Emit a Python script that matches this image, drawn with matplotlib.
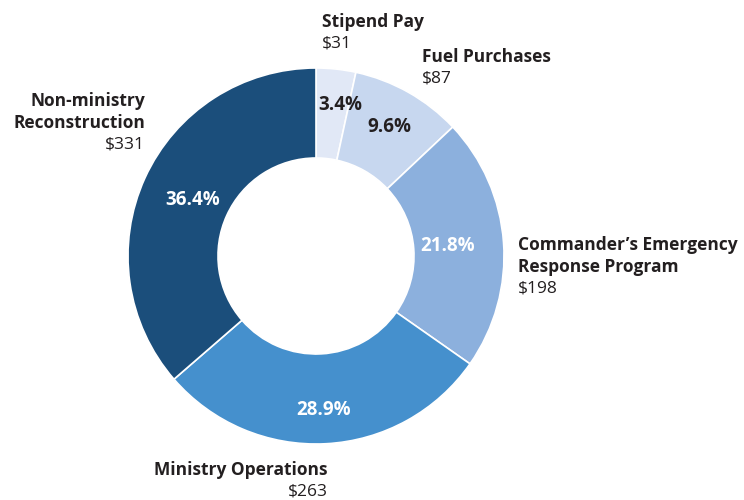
import numpy as np
import matplotlib.pyplot as plt

# Spending by category ($ millions)
categories = ["Stipend Pay", "Fuel Purchases", "Commander\u2019s Emergency\nResponse Program",
              "Ministry Operations", "Non-ministry\nReconstruction"]
amounts = [31, 87, 198, 263, 331]
percents = ["3.4%", "9.6%", "21.8%", "28.9%", "36.4%"]
colors = ["#e1e8f6", "#c7d7ef", "#8cb0dd", "#4590cd", "#1b4e7b"]
pct_colors = ["#231f20", "#231f20", "white", "white", "white"]

plt.rcParams['font.family'] = ['Open Sans', 'DejaVu Sans']

fig = plt.figure(figsize=(7.44, 5.0), dpi=100)
ax = fig.add_axes([0, 0, 1, 1])

H = 500
cx, cy, R = 316, H - 256, 188
wedges, _ = ax.pie(
    amounts,
    colors=colors,
    startangle=90,
    counterclock=False,
    radius=R,
    center=(cx, cy),
    wedgeprops=dict(width=90, edgecolor="white", linewidth=1.2),
    frame=True,
)
ax.set_xlim(0, 744)
ax.set_ylim(0, 500)
ax.axis("off")

# percentage labels inside the ring
pct_dist = [0.81, 0.79, 0.70, 0.82, 0.72]
pct_ha = ["left", "center", "center", "center", "center"]
for w, p, c, d, ha in zip(wedges, percents, pct_colors, pct_dist, pct_ha):
    ang = np.deg2rad((w.theta1 + w.theta2) / 2)
    x = cx + R * d * np.cos(ang)
    if ha == "left":
        # narrow slice: start the text just right of the slice's leading edge
        x = cx + R * d * np.cos(np.deg2rad(w.theta2)) + 2
    ax.text(x, cy + R * d * np.sin(ang), p,
            ha=ha, va="center", fontsize=13.5, fontweight="bold", color=c)

# category labels
label_pos = [(322, 22, "left"), (422, 57, "left"), (518, 245, "left"),
             (328, 470, "right"), (145, 101, "right")]
step = 21.5
for (x, y, ha), name, amt in zip(label_pos, categories, amounts):
    lines = name.split("\n")
    for i, line in enumerate(lines):
        ax.text(x, H - (y + step * i), line, ha=ha, va="center", fontsize=12.5,
                fontweight="bold", color="#231f20")
    ax.text(x, H - (y + step * len(lines)), f"${amt}", ha=ha, va="center",
            fontsize=12.5, color="#231f20")

fig.savefig("out.png", dpi=100)
